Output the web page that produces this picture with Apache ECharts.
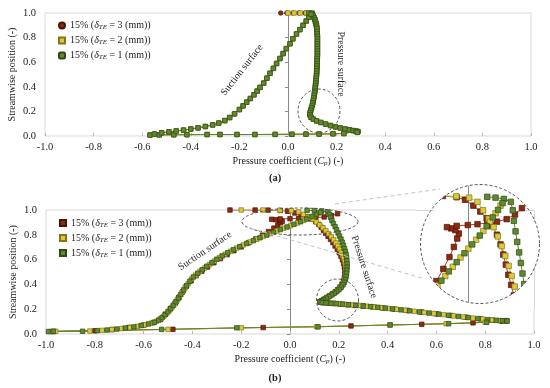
<!DOCTYPE html>
<html><head><meta charset="utf-8">
<script src="https://cdn.jsdelivr.net/npm/echarts@6/dist/echarts.min.js"></script>
<style>html,body{margin:0;padding:0;background:#fff}#c{width:550px;height:388px}</style>
</head><body><div id="c"></div>
<script>
// ---------- tick values ----------
const xTicks = [-1.0,-0.8,-0.6,-0.4,-0.2,0.0,0.2,0.4,0.6,0.8,1.0];
const yTicks = [0.0,0.2,0.4,0.6,0.8,1.0];

// ---------- chart (a) ----------
const a_top_3 = [[-0.03,1.0],[-0.005,1.0],[0.02,1.0],[0.045,1.0],[0.07,1.0],[0.09,1.0]];
const a_top_2 = [[0.0,1.0],[0.025,1.0],[0.05,1.0],[0.075,1.0],[0.095,1.0]];
const a_top_1 = [[0.085,1.0],[0.1,0.998]];
const a_pressure = [[0.1,0.99],[0.104,0.975],[0.108,0.96],[0.111,0.945],[0.113,0.93],[0.115,0.915],[0.117,0.9],[0.118,0.885],[0.119,0.87],[0.12,0.85],[0.12,0.83],[0.121,0.81],[0.121,0.79],[0.121,0.77],[0.121,0.75],[0.121,0.73],[0.121,0.71],[0.121,0.69],[0.121,0.67],[0.121,0.65],[0.12,0.63],[0.12,0.61],[0.12,0.59],[0.119,0.57],[0.119,0.55],[0.118,0.53],[0.118,0.51],[0.117,0.49],[0.116,0.47],[0.115,0.45],[0.114,0.43],[0.113,0.41],[0.112,0.39],[0.111,0.37],[0.109,0.35],[0.108,0.33],[0.106,0.31],[0.104,0.29],[0.102,0.27],[0.1,0.25],[0.097,0.23],[0.094,0.21],[0.091,0.19],[0.09,0.172],[0.095,0.152],[0.104,0.137],[0.118,0.123],[0.135,0.11],[0.155,0.097],[0.175,0.085],[0.195,0.074],[0.215,0.065],[0.235,0.057],[0.253,0.05],[0.268,0.044],[0.28,0.04],[0.288,0.036]];
const a_bottom = [[0.285,0.03],[0.23,0.02],[0.185,0.018],[0.128,0.016],[0.074,0.015],[0.016,0.014],[-0.053,0.013],[-0.136,0.012],[-0.21,0.012],[-0.28,0.012],[-0.333,0.012],[-0.416,0.011],[-0.47,0.01],[-0.53,0.009],[-0.568,0.008]];
const a_suction = [[-0.55,0.016],[-0.52,0.026],[-0.49,0.034],[-0.46,0.041],[-0.43,0.048],[-0.40,0.057],[-0.37,0.066],[-0.34,0.077],[-0.31,0.09],[-0.285,0.105],[-0.26,0.125],[-0.24,0.15],[-0.22,0.18],[-0.20,0.215],[-0.185,0.245],[-0.17,0.275],[-0.155,0.305],[-0.14,0.335],[-0.127,0.365],[-0.115,0.395],[-0.10,0.43],[-0.087,0.47],[-0.074,0.51],[-0.06,0.55],[-0.047,0.59],[-0.033,0.63],[-0.02,0.67],[-0.007,0.71],[0.008,0.75],[0.02,0.79],[0.035,0.83],[0.049,0.865],[0.062,0.90],[0.075,0.935],[0.086,0.965],[0.095,0.99]];

// ---------- chart (b) : 3 mm ----------
const b3_top = [[-0.246,1.0],[-0.143,1.0],[-0.09,0.999],[-0.04,0.996],[-0.01,0.99]];
const b3_pressure = [[0.02,0.976],[0.045,0.962],[0.068,0.946],[0.088,0.928],[0.105,0.907],[0.118,0.884],[0.128,0.86],[0.137,0.836],[0.146,0.812],[0.156,0.788],[0.166,0.763],[0.176,0.737],[0.185,0.71],[0.194,0.683],[0.202,0.655],[0.209,0.627],[0.215,0.598],[0.22,0.569],[0.223,0.54],[0.225,0.511],[0.225,0.482],[0.223,0.454],[0.219,0.427],[0.213,0.402],[0.205,0.379],[0.196,0.359],[0.186,0.341],[0.175,0.325],[0.163,0.309],[0.151,0.294],[0.14,0.28],[0.13,0.268],[0.122,0.259],[0.135,0.253],[0.158,0.249],[0.18,0.246],[0.205,0.242],[0.235,0.236],[0.265,0.231],[0.3,0.225],[0.34,0.218],[0.38,0.21],[0.43,0.2],[0.48,0.19],[0.54,0.177],[0.6,0.162],[0.66,0.149],[0.72,0.135],[0.78,0.122],[0.83,0.112],[0.865,0.107],[0.885,0.105]];
const b3_bottom = [[0.87,0.103],[0.75,0.09],[0.54,0.078],[0.25,0.065],[-0.11,0.052],[-0.48,0.038],[-0.97,0.02]];
const b3_suction = [[-0.8,0.026],[-0.73,0.036],[-0.66,0.053],[-0.6,0.072],[-0.56,0.092],[-0.53,0.118],[-0.51,0.16],[-0.49,0.205],[-0.47,0.25],[-0.455,0.295],[-0.44,0.34],[-0.425,0.385],[-0.405,0.43],[-0.385,0.47],[-0.362,0.505],[-0.338,0.54],[-0.312,0.575],[-0.285,0.608],[-0.258,0.64],[-0.23,0.672],[-0.2,0.703],[-0.17,0.735],[-0.14,0.767],[-0.113,0.797],[-0.088,0.826],[-0.066,0.854],[-0.05,0.878],[-0.038,0.898],[-0.032,0.91],[-0.045,0.918],[-0.06,0.922],[-0.075,0.925]];
const b3_tail = [[-0.04,0.928],[0.0,0.93],[0.035,0.932],[0.07,0.935],[0.105,0.938],[0.14,0.944],[0.17,0.955],[0.195,0.97]];

// ---------- chart (b) : 2 mm ----------
const b2_top = [[-0.2,1.0],[-0.111,1.0],[-0.041,0.998],[0.005,0.995],[0.035,0.985]];
const b2_pressure = [[0.055,0.965],[0.075,0.945],[0.093,0.925],[0.108,0.903],[0.122,0.88],[0.135,0.857],[0.147,0.833],[0.158,0.809],[0.169,0.784],[0.179,0.759],[0.188,0.734],[0.196,0.709],[0.203,0.684],[0.21,0.659],[0.215,0.634],[0.22,0.609],[0.224,0.584],[0.227,0.559],[0.229,0.534],[0.23,0.509],[0.229,0.484],[0.227,0.459],[0.224,0.435],[0.219,0.412],[0.213,0.391],[0.205,0.371],[0.196,0.352],[0.186,0.336],[0.175,0.321],[0.164,0.307],[0.153,0.294],[0.143,0.282],[0.133,0.27],[0.125,0.261],[0.124,0.256],[0.14,0.252],[0.158,0.25],[0.179,0.247],[0.202,0.243],[0.227,0.239],[0.255,0.234],[0.285,0.229],[0.315,0.224],[0.345,0.218],[0.375,0.212],[0.405,0.206],[0.437,0.199],[0.472,0.191],[0.51,0.183],[0.55,0.174],[0.59,0.165],[0.63,0.156],[0.67,0.146],[0.71,0.137],[0.75,0.128],[0.79,0.12],[0.828,0.113],[0.858,0.108],[0.878,0.106]];
const b2_bottom = [[0.88,0.104],[0.8,0.095],[0.64,0.083],[0.41,0.073],[0.11,0.058],[-0.2,0.05],[-0.5,0.037],[-0.98,0.02]];
const b2_suction = [[-0.96,0.022],[-0.82,0.024],[-0.77,0.029],[-0.73,0.036],[-0.69,0.044],[-0.655,0.052],[-0.625,0.062],[-0.595,0.074],[-0.568,0.087],[-0.547,0.103],[-0.531,0.122],[-0.518,0.143],[-0.506,0.167],[-0.494,0.192],[-0.483,0.218],[-0.472,0.246],[-0.462,0.275],[-0.452,0.305],[-0.442,0.337],[-0.43,0.372],[-0.417,0.407],[-0.403,0.443],[-0.387,0.475],[-0.369,0.504],[-0.35,0.532],[-0.33,0.56],[-0.31,0.589],[-0.289,0.617],[-0.266,0.643],[-0.243,0.668],[-0.219,0.693],[-0.192,0.718],[-0.164,0.742],[-0.136,0.765],[-0.109,0.787],[-0.081,0.809],[-0.054,0.831],[-0.026,0.853],[0.002,0.874],[0.03,0.895],[0.056,0.916],[0.08,0.938],[0.1,0.958],[0.118,0.976]];

// ---------- chart (b) : 1 mm ----------
const b1_top = [[0.07,0.997],[0.1,0.995],[0.13,0.992],[0.155,0.985]];
const b1_pressure = [[0.162,0.965],[0.166,0.94],[0.172,0.915],[0.178,0.89],[0.185,0.865],[0.191,0.84],[0.197,0.815],[0.203,0.79],[0.209,0.765],[0.214,0.74],[0.219,0.715],[0.223,0.69],[0.227,0.665],[0.23,0.64],[0.232,0.615],[0.233,0.59],[0.234,0.565],[0.234,0.54],[0.233,0.515],[0.232,0.49],[0.23,0.465],[0.227,0.44],[0.223,0.418],[0.217,0.397],[0.21,0.378],[0.201,0.36],[0.191,0.344],[0.181,0.329],[0.17,0.315],[0.159,0.301],[0.148,0.289],[0.138,0.277],[0.129,0.266],[0.123,0.258],[0.132,0.254],[0.148,0.251],[0.168,0.248],[0.19,0.245],[0.215,0.241],[0.24,0.236],[0.27,0.231],[0.3,0.226],[0.33,0.221],[0.36,0.215],[0.39,0.209],[0.42,0.202],[0.455,0.195],[0.49,0.187],[0.53,0.178],[0.57,0.169],[0.61,0.16],[0.65,0.151],[0.69,0.142],[0.73,0.133],[0.77,0.124],[0.81,0.116],[0.845,0.11],[0.87,0.107],[0.888,0.108]];
const b1_bottom = [[0.89,0.104],[0.806,0.094],[0.65,0.083],[0.41,0.073],[0.115,0.058],[-0.218,0.05],[-0.526,0.037],[-0.99,0.02]];
const b1_suction = [[-0.97,0.022],[-0.85,0.022],[-0.79,0.027],[-0.75,0.032],[-0.71,0.04],[-0.675,0.048],[-0.64,0.057],[-0.61,0.068],[-0.58,0.081],[-0.556,0.095],[-0.538,0.112],[-0.524,0.132],[-0.512,0.155],[-0.5,0.18],[-0.489,0.205],[-0.478,0.232],[-0.467,0.26],[-0.457,0.29],[-0.447,0.32],[-0.436,0.355],[-0.424,0.39],[-0.41,0.425],[-0.396,0.46],[-0.378,0.49],[-0.36,0.518],[-0.341,0.546],[-0.32,0.575],[-0.3,0.603],[-0.278,0.63],[-0.255,0.655],[-0.232,0.68],[-0.206,0.705],[-0.178,0.73],[-0.15,0.753],[-0.123,0.776],[-0.095,0.798],[-0.068,0.82],[-0.04,0.842],[-0.012,0.863],[0.016,0.884],[0.043,0.905],[0.068,0.927],[0.09,0.948],[0.109,0.966],[0.125,0.982]];

// ---------- magnified-view axis window ----------
const insetX = [-0.172, 0.26];
const insetY = [0.745, 1.025];

// ---------- build ----------
const FONT = '"Liberation Serif","Times New Roman",serif';
const ST = {
  s3: {fill:'#8E2A12', border:'#4A1506', line:'#A8412A'},
  s2: {fill:'#DACB3C', border:'#857418', line:'#CDBE3A'},
  s1: {fill:'#5F8A30', border:'#2E4A14', line:'#5A8530'}
};
const A = {
  a3: a_top_3.concat(a_pressure, a_bottom, a_suction),
  a2: a_top_2.concat(a_pressure, a_bottom, a_suction),
  a1: a_top_1.concat(a_pressure, a_bottom, a_suction)
};
const B = {
  b3: b3_top.concat(b3_pressure, b3_bottom, b3_suction, b3_tail),
  b2: b2_top.concat(b2_pressure, b2_bottom, b2_suction),
  b1: b1_top.concat(b1_pressure, b1_bottom, b1_suction)
};
function mk(name, data, xi, yi, st, size, symbol) {
  return {type:'line', name, data, xAxisIndex:xi, yAxisIndex:yi, symbol: symbol||'rect', symbolSize:size,
    showSymbol:true, animation:false, clip:true, silent:true,
    lineStyle:{color:st.line, width:1}, itemStyle:{color:st.fill, borderColor:st.border, borderWidth:0.7}};
}
const series = [
  mk('a3', A.a3, 0, 0, ST.s3, 4.5, 'circle'),
  mk('a2', A.a2, 0, 0, ST.s2, 4.5),
  mk('a1', A.a1, 0, 0, ST.s1, 4.5),
  mk('b3', B.b3, 1, 2, ST.s3, 4.5),
  mk('b2', B.b2, 1, 2, ST.s2, 4.5),
  mk('b1', B.b1, 1, 2, ST.s1, 4.5),
  mk('i3', B.b3, 2, 4, ST.s3, 5.5),
  mk('i2', B.b2, 2, 4, ST.s2, 5.5),
  mk('i1', B.b1, 2, 4, ST.s1, 5.5)
];
series.slice(6).forEach(s => { s.z = 4; });

const labStyle = {fontFamily:FONT, fontSize:10.5, color:'#222'};
function xAx(grid) {
  return {type:'value', gridIndex:grid, min:xTicks[0], max:xTicks[xTicks.length-1], interval:0.2,
    axisLine:{show:false}, splitLine:{show:false},
    axisTick:{show:true, inside:true, length:3, lineStyle:{color:'#b8b8b8'}},
    axisLabel:Object.assign({margin:6, formatter:v=>v.toFixed(1)}, labStyle),
    name:'{n|Pressure coefficient (}{i|C}{s|p}{n|) (-)}', nameLocation:'middle', nameGap:20, nameMoveOverlap:false,
    nameTextStyle:{fontFamily:FONT, fontSize:10, color:'#222', rich:{
      n:{fontFamily:FONT, fontSize:10, color:'#222'},
      i:{fontFamily:FONT, fontSize:10, color:'#222', fontStyle:'italic'},
      s:{fontFamily:FONT, fontSize:7, color:'#222', fontStyle:'italic', padding:[4,0,0,0]}}}};
}
function yAx(grid) {
  return {type:'value', gridIndex:grid, min:yTicks[0], max:yTicks[yTicks.length-1], interval:0.2,
    axisLine:{show:false, onZero:false}, splitLine:{show:false}, axisTick:{show:false},
    axisLabel:Object.assign({margin:9, formatter:v=>v.toFixed(1)}, labStyle),
    name:'Streamwise position (-)', nameLocation:'middle', nameGap:28, nameRotate:90, nameMoveOverlap:false,
    nameTextStyle:{fontFamily:FONT, fontSize:10, color:'#222'}};
}
function zeroAx(grid) {
  return {type:'value', gridIndex:grid, position:'right', min:0, max:1, interval:0.2,
    axisLine:{show:true, onZero:true, lineStyle:{color:'#8a8a8a', width:1}},
    axisTick:{show:true, inside:true, length:3, lineStyle:{color:'#8a8a8a'}},
    axisLabel:{show:false}, splitLine:{show:false}};
}
const legendRich = {
  n:{fontFamily:FONT, fontSize:10, color:'#222'},
  i:{fontFamily:FONT, fontSize:10, color:'#222', fontStyle:'italic'},
  s:{fontFamily:FONT, fontSize:7, color:'#222', fontStyle:'italic', padding:[4,0,0,0]}
};
function legFmt(name) {
  const k = {a3:3,b3:3,a2:2,b2:2,a1:1,b1:1}[name];
  return '{n|15% (}{i|δ}{s|TE}{n| = ' + k + ' (mm))}';
}
function legend(names, top, left, icons) {
  return {orient:'vertical', left, top, itemGap:4.5, itemWidth:6, itemHeight:6,
    data: names.map((n,i)=>({name:n, icon:icons[i]})), selectedMode:false,
    formatter:legFmt, textStyle:{fontFamily:FONT, fontSize:10, color:'#222', rich:legendRich}};
}

// decoration geometry (pixels)
const CIRC = {cx:480, cy:244, r:59.5};
function ellipsePts(cx, cy, rx, ry, n) {
  const p = [];
  for (let k = 0; k <= n; k++) { const t = 2*Math.PI*k/n; p.push([cx+rx*Math.cos(t), cy+ry*Math.sin(t)]); }
  return p;
}
function maskPts() {
  const x0 = 416, x1 = 544, y0 = 178, y1 = 309;
  const p = [[x0,y0],[x1,y0],[x1,y1],[x0,y1],[x0,CIRC.cy]];
  const n = 120;
  for (let k = 0; k <= n; k++) { const t = Math.PI - 2*Math.PI*k/n; p.push([CIRC.cx+CIRC.r*Math.cos(t), CIRC.cy+CIRC.r*Math.sin(t)]); }
  p.push([x0,CIRC.cy]);
  return p;
}
const dash = {stroke:'#555', lineWidth:1, lineDash:[3,2], fill:null};
const txt = (text, x, y, rot, extra) => ({type:'text', x, y, rotation:rot*Math.PI/180, z:20,
  style:Object.assign({text, font:'10px '+FONT, fill:'#222', align:'center', verticalAlign:'middle'}, extra||{})});

const graphic = [
  {type:'circle', shape:{cx:CIRC.cx, cy:CIRC.cy, r:CIRC.r}, style:{fill:'#fff'}, z:1, silent:true},
  {type:'polygon', shape:{points:maskPts()}, style:{fill:'#fff'}, z:10, silent:true},
  {type:'line', shape:{x1:416, y1:210.5, x2:434, y2:210.5}, style:{stroke:'#d9d9d9', lineWidth:1}, z:11},
  {type:'line', shape:{x1:526, y1:210.5, x2:534.5, y2:210.5}, style:{stroke:'#d9d9d9', lineWidth:1}, z:11},
  {type:'line', shape:{x1:534.5, y1:210.5, x2:534.5, y2:222}, style:{stroke:'#d9d9d9', lineWidth:1}, z:11},
  {type:'line', shape:{x1:534.5, y1:266, x2:534.5, y2:310}, style:{stroke:'#d9d9d9', lineWidth:1}, z:11},
  {type:'polyline', shape:{points:ellipsePts(CIRC.cx, CIRC.cy, CIRC.r, CIRC.r, 120)}, style:dash, z:12, silent:true},
  {type:'polyline', shape:{points:ellipsePts(319, 111, 21, 22, 80)}, style:dash, z:12, silent:true},
  {type:'polyline', shape:{points:ellipsePts(300, 221.5, 58, 13.5, 100)}, style:dash, z:12, silent:true},
  {type:'polyline', shape:{points:ellipsePts(337.5, 300, 21, 21, 80)}, style:dash, z:12, silent:true},
  {type:'line', shape:{x1:335, y1:204, x2:440, y2:189}, style:{stroke:'#c4c4c4', lineWidth:1, lineDash:[4,3]}, z:12},
  {type:'line', shape:{x1:250, y1:228, x2:425, y2:279}, style:{stroke:'#c4c4c4', lineWidth:1, lineDash:[4,3]}, z:12},
  txt('Suction surface', 242, 70, 52),
  txt('Pressure surface', 341, 64, -90),
  txt('Suction surface', 205, 251, 34),
  txt('Pressure surface', 364, 267, -72),
  txt('(a)', 275, 178, 0, {font:'bold 10.5px '+FONT}),
  txt('(b)', 275, 378, 0, {font:'bold 10.5px '+FONT})
];

const option = {
  animation:false,
  backgroundColor:'#fff',
  grid:[
    {left:45, top:13, width:486, height:123, show:true, borderColor:'#d9d9d9', borderWidth:1, outerBoundsMode:'none'},
    {left:46, top:210, width:488, height:124, show:true, borderColor:'#d9d9d9', borderWidth:1, outerBoundsMode:'none'},
    {left:420, top:185, width:120, height:118, show:false, outerBoundsMode:'none'}
  ],
  xAxis:[xAx(0), xAx(1),
    {type:'value', gridIndex:2, min:insetX[0], max:insetX[1], show:false}],
  yAxis:[yAx(0), zeroAx(0), yAx(1), zeroAx(1),
    {type:'value', gridIndex:2, position:'right', min:insetY[0], max:insetY[1], z:3,
     axisLine:{show:true, onZero:true, lineStyle:{color:'#8a8a8a'}}, axisTick:{show:false},
     axisLabel:{show:false}, splitLine:{show:false}}],
  legend:[
    legend(['a3','a2','a1'], 15.5, 53, ['circle','rect','roundRect']),
    legend(['b3','b2','b1'], 213, 54, ['rect','rect','rect'])
  ],
  series,
  graphic
};
const chart = echarts.init(document.getElementById('c'), null, {renderer:'canvas'});
chart.setOption(option);
</script>
</body></html>
